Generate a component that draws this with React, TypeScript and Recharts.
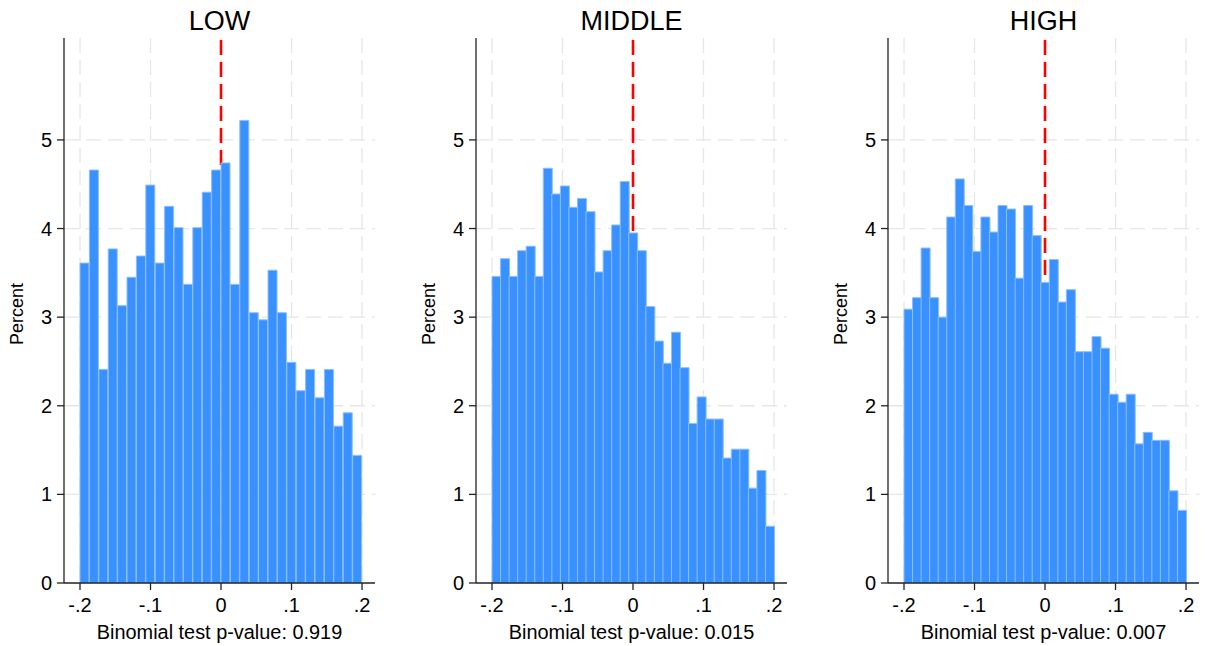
import {
  Bar,
  BarChart,
  CartesianGrid,
  ReferenceLine,
  XAxis,
  YAxis,
} from "recharts";

// Three Stata-style histograms of the same variable, split by group.
// Bins run from -.2 to .2; heights are percent of observations per bin.

const groups = ["LOW", "MIDDLE", "HIGH"];
const pValues = ["0.919", "0.015", "0.007"];

const lowPct = [
  3.61, 4.66, 2.41, 3.77, 3.13, 3.45, 3.69, 4.49, 3.61, 4.25, 4.01, 3.37, 4.01,
  4.41, 4.66, 4.74, 3.37, 5.22, 3.05, 2.97, 3.53, 3.05, 2.49, 2.17, 2.41, 2.09,
  2.41, 1.77, 1.92, 1.44,
];

const middlePct = [
  3.46, 3.66, 3.46, 3.75, 3.8, 3.46, 4.68, 4.39, 4.48, 4.24, 4.34, 4.19, 3.51,
  3.75, 4.04, 4.53, 3.95, 3.75, 3.12, 2.73, 2.48, 2.83, 2.43, 1.8, 2.1, 1.85,
  1.85, 1.41, 1.51, 1.51, 1.07, 1.27, 0.64,
];

const highPct = [
  3.09, 3.22, 3.78, 3.22, 3.0, 4.13, 4.56, 4.26, 3.74, 4.13, 3.96, 4.26, 4.22,
  3.44, 4.26, 3.92, 3.39, 3.65, 3.17, 3.31, 2.61, 2.61, 2.78, 2.65, 2.13, 2.04,
  2.13, 1.57, 1.7, 1.61, 1.61, 1.04, 0.82,
];

const xTicks = [-0.2, -0.1, 0, 0.1, 0.2];
const yTicks = [0, 1, 2, 3, 4, 5];
const yGrid = [1, 2, 3, 4, 5];

const FONT = "'Liberation Sans', Arial, Helvetica, sans-serif";
const BLUE = "#3891FF";
const PANEL_W = 412;
const H = 646;

// bin centres, so the numeric axis places each bar over its interval
const toBins = (values: number[]) =>
  values.map((pct, i) => ({
    x: -0.2 + ((i + 0.5) * 0.4) / values.length,
    pct,
  }));

const stataNum = (v: number) => {
  if (v === 0) return "0";
  const s = Math.abs(v).toFixed(1).replace(/^0/, "");
  return v < 0 ? "-" + s : s;
};

function Panel({ title, pct, pValue }: { title: string; pct: number[]; pValue: string }) {
  const data = toBins(pct);
  return (
    <div style={{ position: "relative", width: PANEL_W, height: H }}>
      <BarChart
        width={PANEL_W}
        height={H}
        data={data}
        margin={{ top: 38, right: 37, left: 24, bottom: 33 }}
        barCategoryGap={0}
        barGap={0}
      >
        <CartesianGrid
          stroke="#E6E6E6"
          strokeDasharray="15 7"
          strokeWidth={1.3}
          horizontalValues={yGrid}
          verticalValues={xTicks}
        />
        <XAxis
          dataKey="x"
          type="number"
          domain={[-0.2227, 0.2184]}
          ticks={xTicks}
          allowDataOverflow
          tickFormatter={stataNum}
          tick={{ fill: "#000", fontSize: 20, fontFamily: FONT }}
          tickSize={7}
          tickMargin={8}
          height={30}
          stroke="#222"
          strokeWidth={1.3}
        />
        <YAxis
          type="number"
          domain={[0, 6.15]}
          ticks={yTicks}
          allowDataOverflow
          tick={{ fill: "#000", fontSize: 20, fontFamily: FONT }}
          tickSize={7}
          tickMargin={5}
          width={40}
          stroke="#222"
          strokeWidth={1.3}
        />
        <ReferenceLine
          x={0}
          stroke="#FF0000"
          strokeWidth={2.6}
          strokeDasharray="15 7"
          zIndex={250}
        />
        <Bar
          dataKey="pct"
          fill={BLUE}
          stroke="#8CBEFF"
          strokeWidth={1}
          isAnimationActive={false}
        />
      </BarChart>
      <svg
        width={PANEL_W}
        height={H}
        style={{ position: "absolute", left: 0, top: 0, pointerEvents: "none" }}
        fontFamily={FONT}
      >
        <text x={219.5} y={30} fontSize={27} textAnchor="middle" fill="#000">
          {title}
        </text>
        <text
          x={23}
          y={314}
          fontSize={18}
          textAnchor="middle"
          fill="#000"
          transform="rotate(-90 23 314)"
        >
          Percent
        </text>
        <text x={219.5} y={639} fontSize={19.9} textAnchor="middle" fill="#000">
          {`Binomial test p-value: ${pValue}`}
        </text>
      </svg>
    </div>
  );
}

const series = [lowPct, middlePct, highPct];

export default function App() {
  return (
    <div
      style={{
        position: "absolute",
        left: 0,
        top: 0,
        width: 1209,
        height: H,
        background: "#fff",
      }}
    >
      {groups.map((g, i) => (
        <div key={g} style={{ position: "absolute", left: i * 412, top: 0 }}>
          <Panel title={g} pct={series[i]} pValue={pValues[i]} />
        </div>
      ))}
    </div>
  );
}
